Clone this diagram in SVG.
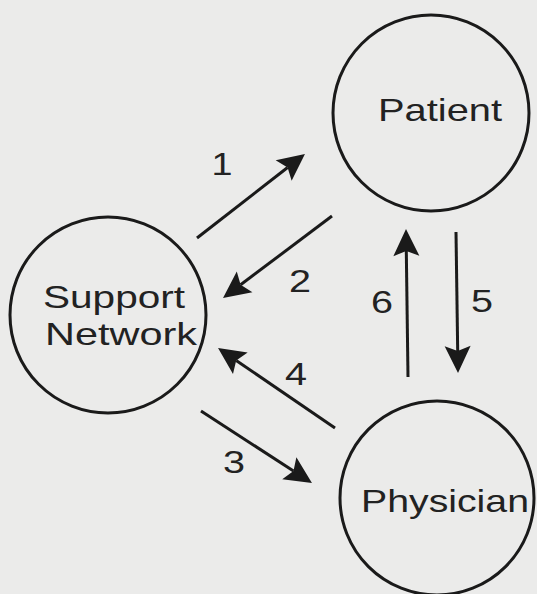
<svg xmlns="http://www.w3.org/2000/svg" width="537" height="594" viewBox="0 0 537 594">
<style>
.node{fill:none;stroke:#1a1a1a;stroke-width:3}
.lbl{font-family:"Liberation Sans",Arial,Helvetica,sans-serif;font-size:32px;fill:#222}
.num{font-family:"Liberation Sans",Arial,Helvetica,sans-serif;font-size:32px;fill:#222;text-anchor:middle}
.edge{stroke:#1a1a1a;stroke-width:3;fill:none;marker-end:url(#ah)}
</style>
<defs>
<marker id="ah" markerUnits="userSpaceOnUse" viewBox="0 -14 28 28" markerWidth="28" markerHeight="28" refX="5" refY="0" orient="auto" overflow="visible">
<path d="M27,0 L0,-13 L5,0 L0,13 Z" fill="#1a1a1a"/>
</marker>
</defs>
<rect width="537" height="594" fill="#ebebea"/>
<g id="patient">
<circle class="node" cx="431" cy="113" r="98"/>
<text class="lbl" x="378" y="121" textLength="124" lengthAdjust="spacingAndGlyphs">Patient</text>
</g>
<g id="support-network">
<circle class="node" cx="108" cy="315" r="98"/>
<text class="lbl" x="43" y="308" textLength="142" lengthAdjust="spacingAndGlyphs">Support</text>
<text class="lbl" x="45" y="345" textLength="152" lengthAdjust="spacingAndGlyphs">Network</text>
</g>
<g id="physician">
<circle class="node" cx="437" cy="498" r="97"/>
<text class="lbl" x="361" y="512" textLength="168" lengthAdjust="spacingAndGlyphs">Physician</text>
</g>
<g id="connectors">
<line class="edge" x1="197" y1="238" x2="287.6" y2="167.5"/>
<line class="edge" x1="332" y1="216" x2="240.6" y2="284.8"/>
<line class="edge" x1="201" y1="411" x2="293.5" y2="471"/>
<line class="edge" x1="335" y1="428" x2="236.2" y2="360.4"/>
<line class="edge" x1="456" y1="232" x2="457.7" y2="351"/>
<line class="edge" x1="408" y1="377" x2="406.3" y2="251"/>
<text class="num" x="222" y="175" textLength="21" lengthAdjust="spacingAndGlyphs">1</text>
<text class="num" x="300" y="292" textLength="22" lengthAdjust="spacingAndGlyphs">2</text>
<text class="num" x="234" y="473" textLength="22" lengthAdjust="spacingAndGlyphs">3</text>
<text class="num" x="296" y="385" textLength="22" lengthAdjust="spacingAndGlyphs">4</text>
<text class="num" x="482" y="312" textLength="22" lengthAdjust="spacingAndGlyphs">5</text>
<text class="num" x="382" y="313" textLength="22" lengthAdjust="spacingAndGlyphs">6</text>
</g>
</svg>
